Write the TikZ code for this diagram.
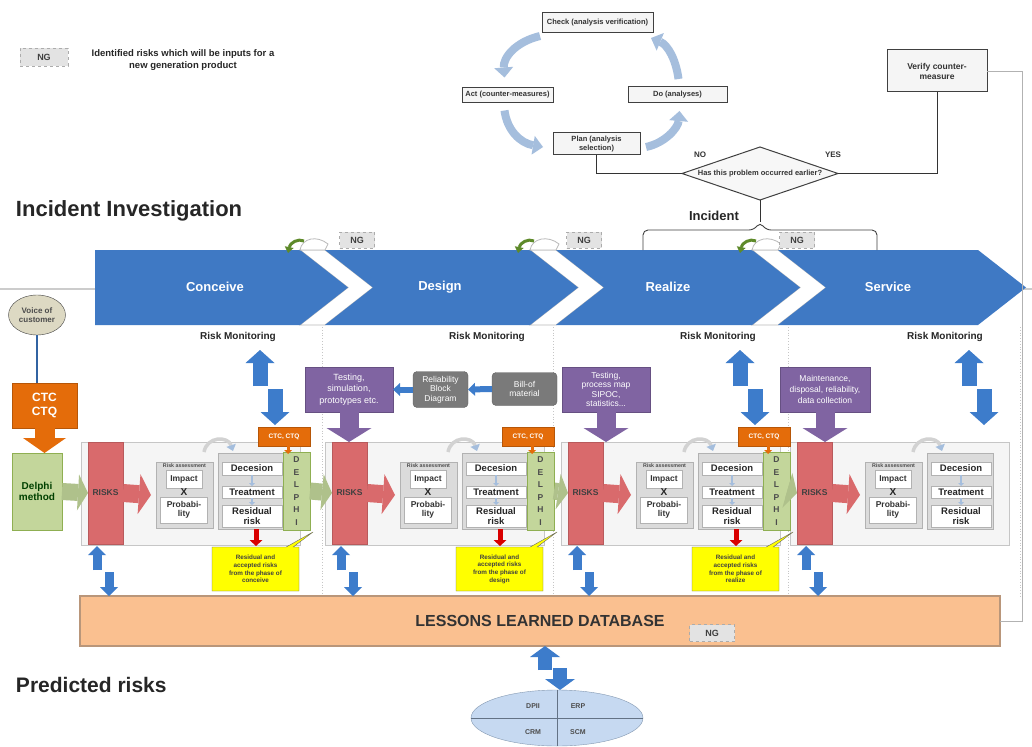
\documentclass[tikz,border=0pt]{standalone}
\usepackage{fontspec}
\setmainfont{Liberation Sans}
\usetikzlibrary{arrows.meta,shapes.geometric,shapes.callouts,calc}

\definecolor{chevblue}{HTML}{3F79C4}
\definecolor{riskred}{HTML}{D96A6C}
\definecolor{arrblue}{HTML}{3D7CCB}
\definecolor{pdcablue}{HTML}{A5BEDD}
\definecolor{purplebox}{HTML}{8064A2}
\definecolor{darkgreybox}{HTML}{7A7A7A}
\definecolor{ctcorange}{HTML}{E46C0A}
\definecolor{delphigreen}{HTML}{C3D69B}
\definecolor{delphiedge}{HTML}{8FAF52}
\definecolor{callyellow}{HTML}{FFFF00}
\definecolor{llpeach}{HTML}{FAC090}
\definecolor{lledge}{HTML}{B9967A}
\definecolor{vocfill}{HTML}{DDD9C3}
\definecolor{ellblue}{HTML}{C6D9F1}
\definecolor{curlgreen}{HTML}{5E8A2A}

\newcommand\fsz[2]{\fontsize{#1}{#2}\selectfont}

\begin{document}
\begin{tikzpicture}[x=1pt,y=-1pt,
  every node/.style={inner sep=0pt,outer sep=0pt,align=center},
  pdcabox/.style={draw=gray!50!black,line width=1pt,fill=gray!8,font=\fsz{7.5}{8.5}\bfseries,text=black!80},
  pdcaarrow/.style={draw=pdcablue,line width=8pt,-{Triangle[length=10pt,width=19pt,line width=0pt]}},
  flowline/.style={draw=gray!40!black,line width=0.9pt},
  ngtag/.style={draw=gray!65,dashed,fill=gray!22,minimum width=35,minimum height=16,font=\fsz{9}{10}\bfseries,text=black!75},
  heading/.style={font=\fsz{21}{24}\bfseries,text=black!85,anchor=west},
  phase/.style={font=\fsz{13}{15}\bfseries,text=white},
  monitor/.style={font=\fsz{10}{11}\bfseries,text=black!85},
  strip/.style={draw=gray!45,fill=gray!8,minimum width=219,minimum height=103},
  risks/.style={fill=riskred,draw=riskred!85!black,minimum width=35,minimum height=102,font=\fsz{8.5}{9}\bfseries,text=black!75},
  rabox/.style={draw=gray!60,fill=gray!28,minimum width=57,minimum height=66},
  decgroup/.style={draw=gray!60,fill=gray!28,minimum width=66,minimum height=76},
  whitebox/.style={draw=gray!60,fill=white,font=\fsz{8.5}{9}\bfseries,text=black!80},
  decbox/.style={draw=gray!60,fill=white,minimum width=60,font=\fsz{9.5}{10}\bfseries,text=black!85},
  delphi/.style={draw=delphiedge,fill=delphigreen,minimum width=27,minimum height=78,font=\fsz{8.5}{12.5}\bfseries,text=black!70},
  ctctag/.style={fill=ctcorange,draw=ctcorange!80!black,minimum width=52,minimum height=19,font=\fsz{6.5}{7}\bfseries,text=white},
  note/.style={rectangle callout,draw=black!60,fill=callyellow,minimum width=87,minimum height=44,callout pointer width=7pt,font=\fsz{6.3}{7.6}\bfseries,text=black!75},
  procbox/.style={fill=purplebox,draw=purplebox!80!black,minimum width=88,minimum height=45,text=white},
  greybox/.style={fill=darkgreybox,draw=darkgreybox!80!black,rounded corners=4pt,font=\fsz{8.5}{9.5},text=white},
  redarrow/.style={draw=riskred,line width=18pt,-{Triangle[length=12pt,width=40pt,line width=0pt]}},
  greenarrow/.style={draw=delphigreen!90!black,line width=17pt,-{Triangle[length=10pt,width=36pt,line width=0pt]}},
  orangearrow/.style={draw=ctcorange,line width=20pt,-{Triangle[length=15pt,width=43pt,line width=0pt]}},
  procarrow/.style={draw=purplebox,line width=19pt,-{Triangle[length=14pt,width=45pt,line width=0pt]}},
  bluearrow/.style={draw=arrblue,line width=15pt,-{Triangle[length=13pt,width=29pt,line width=0pt]}},
  lowarrow/.style={draw=arrblue,line width=9pt,-{Triangle[length=9pt,width=18pt,line width=0pt]}},
  dbarrow/.style={draw=arrblue,line width=14pt,-{Triangle[length=11pt,width=30pt,line width=0pt]}},
  leftblue/.style={draw=arrblue,line width=6pt,-{Triangle[length=7pt,width=13pt,line width=0pt]}},
  smallblue/.style={draw=pdcablue,line width=2pt,-{Triangle[length=3pt,width=6pt,line width=0pt]}},
  reddown/.style={draw=red!85!black,line width=5pt,-{Triangle[length=6pt,width=13pt,line width=0pt]}},
  ctcdrop/.style={draw=ctcorange,line width=3pt,-{Triangle[length=4pt,width=8pt,line width=0pt]}},
  curvearrow/.style={draw=gray!35,line width=3.5pt,-{Triangle[length=6pt,width=10pt,line width=0pt,color=pdcablue]}},
  greencurl/.style={draw=curlgreen,line width=3pt,-{Triangle[length=6pt,width=9pt,line width=0pt]}},
  divider/.style={draw=gray!45,dotted,line width=0.8pt}
]
\useasboundingbox (0,0) rectangle (1032,746);
\fill[white] (0,0) rectangle (1032,746);

% ---------- legend ----------
\node[ngtag,minimum width=48,minimum height=18] (nglegend) at (44,57) {NG};
\node[font=\fsz{9.5}{12}\bfseries,text=black!85] (legendtxt) at (183,60)
  {Identified risks which will be inputs for a\\new generation product};

% ---------- PDCA cycle ----------
\node[pdcabox,minimum width=111,minimum height=20] (check) at (597.5,23) {Check (analysis verification)};
\node[pdcabox,minimum width=91,minimum height=15] (act) at (507.5,95) {Act (counter-measures)};
\node[pdcabox,minimum width=99,minimum height=16] (do) at (677.5,95) {Do (analyses)};
\node[pdcabox,minimum width=87,minimum height=22] (plan) at (596.5,144) {Plan (analysis\\selection)};
\draw[pdcaarrow] ($(check.south west)+(-2,3)$) .. controls (515,42) and (503,58) .. ($(act.north)+(-3,-10)$);
\draw[pdcaarrow] ($(act.south)+(-3,8)$) .. controls (507,130) and (520,143) .. ($(plan.west)+(-10,3)$);
\draw[pdcaarrow] ($(plan.east)+(6,3)$) .. controls (665,143) and (678,128) .. ($(do.south)+(2,8)$);
\draw[pdcaarrow] ($(do.north)+(1,-8)$) .. controls (676,60) and (668,45) .. ($(check.east)+(-2,15)$);

\node[diamond,aspect=3,draw=gray!50!black,line width=1pt,fill=gray!6,minimum width=156,minimum height=53,
      font=\fsz{7.5}{8.5}\bfseries,text=black!80] (dia) at (760,173.5) {Has this problem occurred earlier?};
\node[font=\fsz{8}{9}\bfseries,text=black!80] (nolbl) at (700,155) {NO};
\node[font=\fsz{8}{9}\bfseries,text=black!80] (yeslbl) at (833,155) {YES};
\node[pdcabox,minimum width=100,minimum height=42,font=\fsz{8.5}{10}\bfseries] (verify) at (937,71) {Verify counter-\\measure};
\draw[flowline] (plan.south) |- (dia.west);
\draw[flowline] (dia.east) -| (verify.south);

% ---------- headings ----------
\node[heading,font=\fsz{22}{24}\bfseries] (invest) at (16,211) {Incident Investigation};
\node[heading] (predicted) at (16,685) {Predicted risks};

% ---------- background guide lines ----------
\draw[draw=gray!40,line width=1.5pt] (0,289) -- (1032,289);
\foreach \k/\dx in {1/322,2/553,3/788,4/1020}{
  \draw[divider] (\dx,327) -- (\dx,596);
}

% ---------- phase chevrons ----------
\foreach \a/\b in {300/325,530/556,752/778}{
  \filldraw[fill=white,draw=gray!55,line width=0.8pt]
    (\a,250) -- (\b,250) -- (\b+48,287.5) -- (\b,325) -- (\a,325) -- (\a+48,287.5) -- cycle;
}
\fill[chevblue] (95,250) -- (300,250) -- (348,287.5) -- (300,325) -- (95,325) -- cycle;
\fill[chevblue] (325,250) -- (530,250) -- (578,287.5) -- (530,325) -- (325,325) -- (373,287.5) -- cycle;
\fill[chevblue] (556,250) -- (752,250) -- (800,287.5) -- (752,325) -- (556,325) -- (604,287.5) -- cycle;
\fill[chevblue] (778,250) -- (978,250) -- (1026,287.5) -- (978,325) -- (778,325) -- (826,287.5) -- cycle;
\foreach \a/\b in {300/325,530/556,752/778}{
  \filldraw[fill=white,draw=gray!55,line width=0.8pt]
    (\a,250) .. controls (\a+2,238) and (\b-8,235) .. (\b+3,244) -- (\b,250) -- cycle;
  \draw[greencurl] (\a+4,241) .. controls (\a-2,238) and (\a-10,243) .. (\a-12,253);
}
\node[phase] (conceive) at (215,287) {Conceive};
\node[phase] (design) at (440,287) {Design};
\node[phase] (realize) at (668,287) {Realize};
\node[phase] (service) at (888,287) {Service};

\node[ngtag] (ng1) at (357,240) {NG};
\node[ngtag] (ng2) at (584,240) {NG};
\node[ngtag] (ng3) at (797,240) {NG};

% incident brace
\draw[draw=gray!50!black,line width=0.9pt,rounded corners=5pt]
  (643,250) -- (643,230) -- (754,230) -- (760,222) -- (766,230) -- (877,230) -- (877,250);
\coordinate (bracetop) at (760,222);
\draw[flowline] (dia.south) -- (bracetop);
\node[font=\fsz{13}{14}\bfseries,text=black!85] (incident) at (714,216) {Incident};

% ---------- risk monitoring ----------
\node[monitor] (rm1) at (238,337) {Risk Monitoring};
\node[monitor] (rm2) at (487,337) {Risk Monitoring};
\node[monitor] (rm3) at (718,337) {Risk Monitoring};
\node[monitor] (rm4) at (945,337) {Risk Monitoring};

% ---------- lessons learned database ----------
\node[fill=llpeach,draw=lledge,line width=1.5pt,minimum width=920,minimum height=50,
      font=\fsz{16}{18}\bfseries,text=black!80] (ll) at (540,621) {LESSONS LEARNED DATABASE};
\node[ngtag,minimum width=45,minimum height=17] (ngdb) at (712,633) {NG};
\draw[draw=gray!60,line width=0.7pt] (verify.east) -- (1022,71) |- (ll.east);

% ---------- phase strips ----------
\foreach \i/\xo in {1/88,2/332,3/568,4/797}{
  \node[strip] (strip\i) at (\xo+102.5,493.5) {};
}

% ---------- information inputs above strips ----------
\node[procbox,font=\fsz{9}{11.5}] (proc2) at (349,389.5) {Testing,\\simulation,\\prototypes etc.};
\node[procbox,font=\fsz{8.5}{9.6}] (proc3) at (606,389.5) {Testing,\\process map\\SIPOC,\\statistics...};
\node[procbox,minimum width=90,font=\fsz{8.5}{11}] (proc4) at (825,389.5) {Maintenance,\\disposal, reliability,\\data collection};
\draw[procarrow] (proc2.south) -- ++(0,30);
\draw[procarrow] (proc3.south) -- ++(0,30);
\draw[procarrow] (proc4.south) -- ++(0,30);
\node[greybox,minimum width=55,minimum height=36] (rbd) at (440.5,389.5) {Reliability\\Block\\Diagram};
\node[greybox,minimum width=65,minimum height=33] (bom) at (524.5,389) {Bill-of\\material};
\draw[leftblue] (bom.west) -- (rbd.east);
\draw[leftblue] (rbd.west) -- (proc2.east);

% ---------- phase contents ----------
\foreach \i/\xo/\ph in {1/88/conceive,2/332/design,3/568/realize,4/797/service}{
  \node[risks] (risks\i) at (\xo+17.5,493) {RISKS};
  \ifnum\i>1
    \pgfmathtruncatemacro\j{\i-1}
    \draw[greenarrow] (delphi\j.east) -- (risks\i.west);
  \fi
  \node[rabox] (ra\i) at (\xo+96.5,495) {};
  \node[font=\fsz{5.3}{6}\bfseries,text=black!70] (rahead\i) at (\xo+96.5,466) {Risk assessment};
  \node[whitebox,minimum width=36,minimum height=18] (imp\i) at (\xo+96,479.5) {Impact};
  \node[font=\fsz{10}{10}\bfseries,text=black!85] (times\i) at (\xo+96,492.5) {X};
  \node[whitebox,minimum width=47,minimum height=26] (prob\i) at (\xo+96,510) {Probabi-\\lity};
  \draw[redarrow] (risks\i.east) -- ([xshift=-5pt]ra\i.west);
  \node[decgroup] (dec\i) at (\xo+163,491) {};
  \node[decbox,minimum height=13] (decn\i) at (\xo+164,468.5) {Decesion};
  \node[decbox,minimum height=12] (treat\i) at (\xo+164,492) {Treatment};
  \node[decbox,minimum height=22] (resid\i) at (\xo+164,516) {Residual\\risk};
  \draw[smallblue] (decn\i.south) -- (treat\i.north);
  \draw[smallblue] (treat\i.south) -- (resid\i.north);
  \draw[curvearrow] (\xo+116,452) .. controls (\xo+119,436) and (\xo+140,436) .. (\xo+145,451);
  \ifnum\i<4
    \node[delphi] (delphi\i) at (\xo+208.5,491) {D\\E\\L\\P\\H\\I};
    \node[ctctag] (ctc\i) at (\xo+196,436.5) {CTC, CTQ};
    \draw[ctcdrop] ([xshift=4pt]ctc\i.south) -- ++(0,8);
    \draw[reddown] ([xshift=5pt]dec\i.south) -- ++(0,17);
    \pgfmathsetmacro\px{\xo+225}
    \node[note,callout absolute pointer={(\px,532)}] (note\i) at (\xo+167.5,569)
      {Residual and\\accepted risks\\from the phase of\\\ph};
  \fi
  \ifnum\i=2\else
    \draw[bluearrow] (\xo+172,386) -- (\xo+172,350);
    \draw[bluearrow] (\xo+187,389) -- (\xo+187,425);
  \fi
  \draw[lowarrow] (\xo+9,570) -- (\xo+9,546);
  \draw[lowarrow] (\xo+21,572) -- (\xo+21,596);
}

% ---------- left column: voice of customer ----------
\node[ellipse,draw=gray!50!black,fill=vocfill,minimum width=57,minimum height=40,
      font=\fsz{8}{9}\bfseries,text=black!70] (voice) at (37,315) {Voice of\\customer};
\node[fill=ctcorange,draw=ctcorange!80!black,minimum width=65,minimum height=45,
      font=\fsz{12}{13.5}\bfseries,text=white] (ctcL) at (44.5,405.5) {CTC\\CTQ};
\node[fill=delphigreen,draw=delphiedge,minimum width=50,minimum height=77,
      font=\fsz{10}{11.5}\bfseries,text=green!25!black] (delphiL) at (37,491.5) {Delphi\\method};
\draw[draw=arrblue!80!black,line width=1.6pt] (voice.south) -- (voice.south |- ctcL.north);
\draw[orangearrow] (ctcL.south) -- (ctcL.south |- delphiL.north);
\draw[greenarrow] (delphiL.east) -- (risks1.west);

% ---------- enterprise systems ----------
\draw[dbarrow] (545,670) -- (ll.south -| 545,0);
\draw[dbarrow] (560,668) -- (560,690);
\node[ellipse,draw=pdcablue!80!black,fill=ellblue,minimum width=172,minimum height=56] (sys) at (557,718) {};
\draw[draw=pdcablue!60!black,line width=0.8pt] (sys.west) -- (sys.east);
\draw[draw=pdcablue!60!black,line width=0.8pt] (sys.north) -- (sys.south);
\node[font=\fsz{7}{8}\bfseries,text=black!70] (sysa) at (533,706) {DPII};
\node[font=\fsz{7}{8}\bfseries,text=black!70] (sysb) at (578,706) {ERP};
\node[font=\fsz{7}{8}\bfseries,text=black!70] (sysc) at (533,732) {CRM};
\node[font=\fsz{7}{8}\bfseries,text=black!70] (sysd) at (578,732) {SCM};
\end{tikzpicture}
\end{document}
